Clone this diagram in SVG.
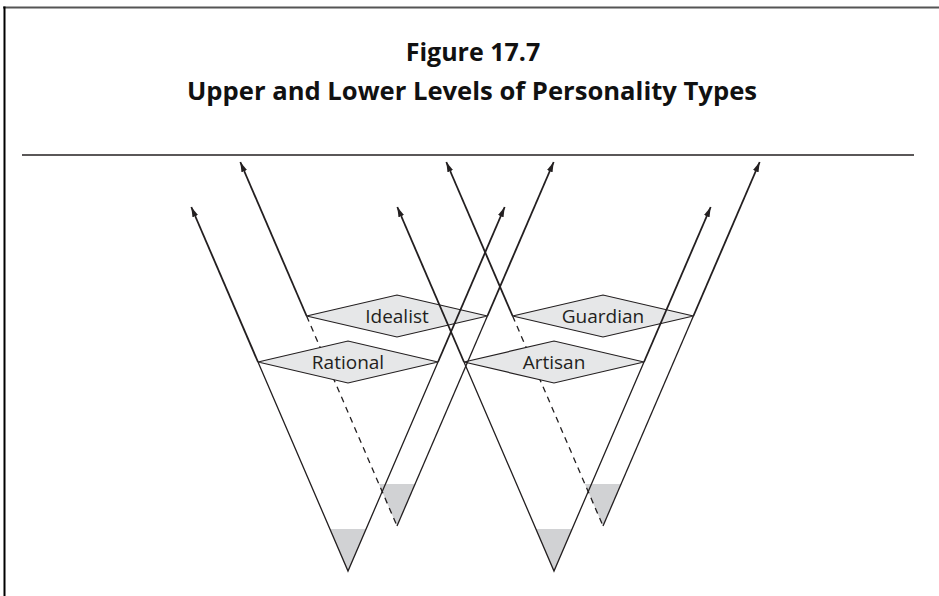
<svg xmlns="http://www.w3.org/2000/svg" width="939" height="596" viewBox="0 0 939 596">
  <defs>
    <marker id="arr" viewBox="0 0 10 6" refX="10" refY="3" markerWidth="10" markerHeight="6" markerUnits="userSpaceOnUse" orient="auto">
      <path d="M0,0 L10,3 L0,6 Z" fill="#231f20"/>
    </marker>
  </defs>
  <style>
    .title { font-family: "Open Sans", "Liberation Sans", sans-serif; font-weight: bold; font-size: 25px; fill: #111; text-anchor: middle; }
    .lbl { font-family: "Open Sans", "Liberation Sans", sans-serif; font-size: 19px; fill: #231f20; text-anchor: middle; }
    .dia { fill: #e6e7e8; stroke: #231f20; stroke-width: 1.2; }
    .shade { fill: #d1d2d4; stroke: none; }
    .low { fill: none; stroke: #231f20; stroke-width: 1.3; stroke-linejoin: miter; }
    .dash { fill: none; stroke: #231f20; stroke-width: 1.3; stroke-dasharray: 6 5; }
    .up { fill: none; stroke: #231f20; stroke-width: 1.8; marker-end: url(#arr); }
  </style>
  <rect width="939" height="596" fill="#fff"/>
  <!-- frame -->
  <line x1="3" y1="7.5" x2="939" y2="7.5" stroke="#555" stroke-width="2"/>
  <line x1="4.5" y1="6.5" x2="4.5" y2="596" stroke="#000" stroke-width="2"/>
  <text class="title" x="473" y="61">Figure 17.7</text>
  <text class="title" x="472" y="100" textLength="570" lengthAdjust="spacingAndGlyphs">Upper and Lower Levels of Personality Types</text>
  <line x1="22" y1="155" x2="914" y2="155" stroke="#231f20" stroke-width="1.5"/>

  <!-- shaded lower levels -->
  <g id="shading">
    <polygon class="shade" points="329.9,529 366.1,529 348,571"/>
    <polygon class="shade" points="535.9,529 572.1,529 554,571"/>
    <polygon class="shade" points="378.9,484 415.1,484 397,526"/>
    <polygon class="shade" points="584.9,484 621.1,484 603,526"/>
  </g>

  <g id="connectors-hidden">
    <line class="dash" x1="306.6" y1="316" x2="397" y2="526"/>
    <line class="dash" x1="512.6" y1="316" x2="603" y2="526"/>
  </g>

  <g id="idealist">
    <polygon class="dia" points="306.6,316 397,295 487.4,316 397,337"/>
    <text class="lbl" x="397" y="323">Idealist</text>
  </g>
  <g id="guardian">
    <polygon class="dia" points="512.6,316 603,295 693.4,316 603,337"/>
    <text class="lbl" x="603" y="323">Guardian</text>
  </g>
  <g id="rational">
    <polygon class="dia" points="258,362 348,341 438,362 348,383"/>
    <text class="lbl" x="348" y="369">Rational</text>
  </g>
  <g id="artisan">
    <polygon class="dia" points="464,362 554,341 644,362 554,383"/>
    <text class="lbl" x="554" y="369">Artisan</text>
  </g>

  <g id="connectors">
    <!-- lower V bodies -->
    <polyline class="low" points="258,362 348,571 438,362"/>
    <polyline class="low" points="464,362 554,571 644,362"/>
    <line class="low" x1="397" y1="526" x2="487.4" y2="316"/>
    <line class="low" x1="603" y1="526" x2="693.4" y2="316"/>
    <!-- upper arms with arrows -->
    <line class="up" x1="258" y1="362" x2="191.3" y2="207"/>
    <line class="up" x1="438" y1="362" x2="504.7" y2="207"/>
    <line class="up" x1="464" y1="362" x2="397.3" y2="207"/>
    <line class="up" x1="644" y1="362" x2="710.7" y2="207"/>
    <line class="up" x1="306.6" y1="316" x2="240.3" y2="162"/>
    <line class="up" x1="487.4" y1="316" x2="553.7" y2="162"/>
    <line class="up" x1="512.6" y1="316" x2="446.3" y2="162"/>
    <line class="up" x1="693.4" y1="316" x2="759.7" y2="162"/>
  </g>
</svg>
